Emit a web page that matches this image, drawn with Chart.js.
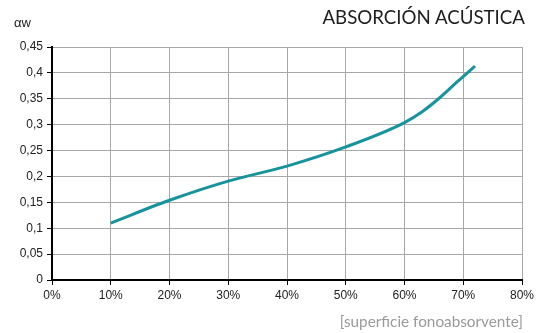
<!DOCTYPE html>
<html>
<head>
<meta charset="utf-8">
<script src="https://cdn.jsdelivr.net/npm/chart.js@4.4.0/dist/chart.umd.min.js"></script>
<style>
  body { margin: 0; background: #fff; }
  #wrap { position: relative; width: 543px; height: 333px; }
  #titulo { position: absolute; right: 18px; top: 6px; font: 18.7px Lato, sans-serif; color: #1e1e1e; }
  #aw { position: absolute; left: 14px; top: 15px; font: 13px "Liberation Sans", Arial, sans-serif; color: #222; }
  #pie { position: absolute; right: 20px; top: 312px; font: 15.3px Lato, sans-serif; color: #9a9a9a; }
</style>
</head>
<body>
<div id="wrap">
  <canvas id="absorcionChart" width="543" height="333"></canvas>
  <div id="titulo">ABSORCIÓN ACÚSTICA</div>
  <div id="aw">αw</div>
  <div id="pie">[superficie fonoabsorvente]</div>
</div>
<script>
    // superficie fonoabsorbente (%) vs coeficiente αw
    const superficie = [10, 20, 30, 40, 50, 60, 63, 66, 69, 72];
    const alfaW = [0.11, 0.154, 0.191, 0.220, 0.257, 0.304, 0.325, 0.352, 0.383, 0.413];
    const ticksX = [0, 10, 20, 30, 40, 50, 60, 70, 80];
    const ticksY = [0, 0.05, 0.1, 0.15, 0.2, 0.25, 0.3, 0.35, 0.4, 0.45];

    const ctx = document.getElementById('absorcionChart').getContext('2d');
    const absorcionChart = new Chart(ctx, {
        type: 'line',
        data: {
            datasets: [{
                label: 'αw',
                data: superficie.map((x, i) => ({ x: x, y: alfaW[i] })),
                borderColor: '#16939c',
                borderWidth: 3,
                pointRadius: 0,
                cubicInterpolationMode: 'monotone',
                fill: false
            }]
        },
        options: {
            responsive: false,
            animation: false,
            layout: { padding: { top: 47, right: 21, left: 0, bottom: 0 } },
            plugins: { legend: { display: false }, tooltip: { enabled: false } },
            scales: {
                x: {
                    type: 'linear',
                    min: 0, max: 80,
                    afterBuildTicks: s => { s.ticks = ticksX.map(v => ({ value: v })); },
                    afterFit: s => { s.height = 53; },
                    grid: { color: '#a8a8a8', lineWidth: 1, tickColor: '#000', tickLength: 5 },
                    border: { color: '#000', width: 2 },
                    ticks: {
                        padding: 3,
                        color: '#222',
                        font: { family: 'Liberation Sans', size: 12 },
                        callback: v => v + '%'
                    }
                },
                y: {
                    min: 0, max: 0.45,
                    afterBuildTicks: s => { s.ticks = ticksY.map(v => ({ value: v })); },
                    afterFit: s => { s.width = 52; },
                    grid: { color: '#a8a8a8', lineWidth: 1, tickColor: '#000', tickLength: 5 },
                    border: { color: '#000', width: 2 },
                    ticks: {
                        padding: 4,
                        color: '#222',
                        font: { family: 'Liberation Sans', size: 12 },
                        callback: v => String(Math.round(v * 100) / 100).replace('.', ',')
                    }
                }
            }
        }
    });
</script>
</body>
</html>
